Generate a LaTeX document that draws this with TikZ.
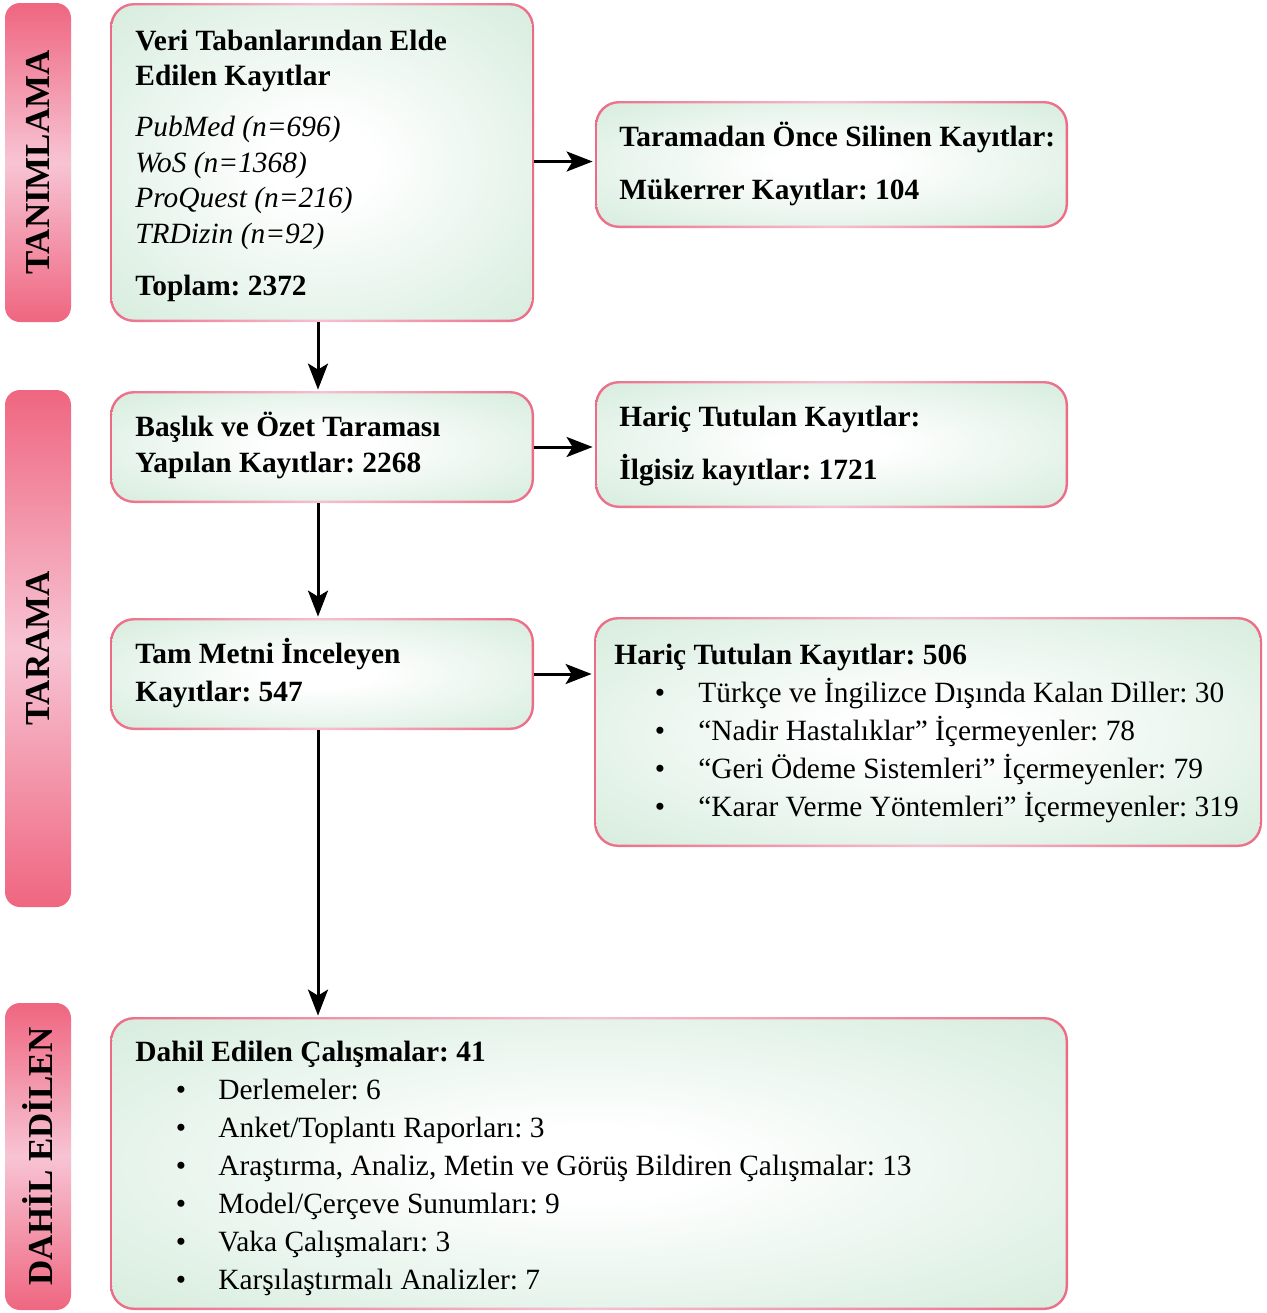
\documentclass[tikz,border=0pt]{standalone}
\usepackage{fontspec}
\setmainfont{Liberation Serif}
\usetikzlibrary{arrows.meta,fit,calc}
\definecolor{pk}{RGB}{236,108,134}
\definecolor{pkl}{RGB}{246,192,208}
\definecolor{barc}{RGB}{239,102,128}
\definecolor{barl}{RGB}{247,196,212}
\definecolor{gr}{RGB}{198,229,208}
\pgfdeclareradialshading{boxshade}{\pgfpoint{0bp}{0bp}}{color(0bp)=(white); color(6bp)=(white); color(48bp)=(gr); color(100bp)=(gr)}
\newcommand\boxfill[2]{\shade[shading=boxshade, rounded corners=#2] ([shift={(1.4pt,-1.4pt)}]#1.north west) rectangle ([shift={(-1.4pt,1.4pt)}]#1.south east);}
\frenchspacing
\begin{document}
\begin{tikzpicture}[x=0.5pt,y=-0.5pt,
 txt/.style={anchor=base west, inner sep=0pt, font=\fontsize{14.7}{19}\selectfont},
 btxt/.style={txt, font=\fontsize{14.7}{19}\selectfont\bfseries},
 itxt/.style={txt, font=\fontsize{14.7}{19}\selectfont\itshape},
 bul/.style={anchor=base, inner sep=0pt, font=\fontsize{14.7}{19}\selectfont},
 sidebar/.style={rounded corners=7.5pt, top color=barc, bottom color=barc, middle color=barl, inner sep=0pt},
 frame/.style={rounded corners=12pt, left color=pk, right color=pk, middle color=pkl, inner sep=0pt},
 arr/.style={line width=1.5pt, -{Stealth[length=13pt,width=10pt,inset=3pt]}},
 bartxt/.style={rotate=90, inner sep=0pt, font=\fontsize{17.5}{17.5}\selectfont\bfseries}]
\useasboundingbox (0,0) rectangle (1266,1313);

% side bars
\node[sidebar, fit={(5,3)(71,322)}] (bar1) {};
\node[bartxt] (lab1) at (bar1.center) {TANIMLAMA};
\node[sidebar, fit={(5,390)(71,907)}] (bar2) {};
\node[bartxt] (lab2) at (bar2.center) {TARAMA};
\node[sidebar, fit={(5,1003)(71,1310)}] (bar3) {};
\node[bartxt] (lab3) at (bar3.center) {DAHİL EDİLEN};

% boxes
\node[frame, fit={(110,3)(534,322)}] (A) {};
\boxfill{A}{11pt}
\node[frame, fit={(595,101)(1068,228)}] (B) {};
\boxfill{B}{11pt}
\node[frame, fit={(110,391)(534,503)}] (C) {};
\boxfill{C}{11pt}
\node[frame, fit={(595,381)(1068,508)}] (D) {};
\boxfill{D}{11pt}
\node[frame, fit={(110,618)(534,730)}] (E) {};
\boxfill{E}{11pt}
\node[frame, fit={(594,617)(1262,847)}] (F) {};
\boxfill{F}{11pt}
\node[frame, fit={(110,1017)(1068,1310)}] (G) {};
\boxfill{G}{11pt}

% texts box A
\node[btxt] (a1) at (135,50) {Veri Tabanlarından Elde};
\node[btxt] (a2) at (135,85) {Edilen Kayıtlar};
\node[itxt] (a3) at (135,136) {PubMed (n=696)};
\node[itxt] (a4) at (135,172) {WoS (n=1368)};
\node[itxt] (a5) at (135,207) {ProQuest (n=216)};
\node[itxt] (a6) at (135,243) {TRDizin (n=92)};
\node[btxt] (a7) at (135,295) {Toplam: 2372};

% box B
\node[btxt] (b1) at (619,146) {Taramadan Önce Silinen Kayıtlar:};
\node[btxt] (b2) at (619,199) {Mükerrer Kayıtlar: 104};

% box C
\node[btxt] (c1) at (135,436) {Başlık ve Özet Taraması};
\node[btxt] (c2) at (135,472) {Yapılan Kayıtlar: 2268};

% box D
\node[btxt] (d1) at (619,426) {Hariç Tutulan Kayıtlar:};
\node[btxt] (d2) at (619,479) {İlgisiz kayıtlar: 1721};

% box E
\node[btxt] (e1) at (135,663) {Tam Metni İnceleyen};
\node[btxt] (e2) at (135,701) {Kayıtlar: 547};

% box F
\node[btxt] (f0) at (614,664) {Hariç Tutulan Kayıtlar: 506};
\foreach \y/\t [count=\i] in {702/{Türkçe ve İngilizce Dışında Kalan Diller: 30},
  740/{“Nadir Hastalıklar” İçermeyenler: 78},
  778/{“Geri Ödeme Sistemleri” İçermeyenler: 79},
  816/{“Karar Verme Yöntemleri” İçermeyenler: 319}}{
  \node[bul] (fb\i) at (660,\y) {•};
  \node[txt] (ft\i) at (698,\y) {\t};
}

% box G
\node[btxt] (g0) at (135,1061) {Dahil Edilen Çalışmalar: 41};
\foreach \y/\t [count=\i] in {1099/{Derlemeler: 6},
  1137/{Anket/Toplantı Raporları: 3},
  1175/{Araştırma, Analiz, Metin ve Görüş Bildiren Çalışmalar: 13},
  1213/{Model/Çerçeve Sunumları: 9},
  1251/{Vaka Çalışmaları: 3},
  1289/{Karşılaştırmalı Analizler: 7}}{
  \node[bul] (gb\i) at (181,\y) {•};
  \node[txt] (gt\i) at (218,\y) {\t};
}

% arrows
\draw[arr] ($(A.east)+(0,-1)$) -- ($(A.east -| B.west)+(-2,-1)$);
\draw[arr] (C.east) -- ($(C.east -| D.west)+(-2,0)$);
\draw[arr] (E.east) -- ($(E.east -| F.west)+(-2,0)$);
\draw[arr] ($(A.south)+(-4,0)$) -- ($(A.south |- C.north)+(-4,-1)$);
\draw[arr] ($(C.south)+(-4,0)$) -- ($(C.south |- E.north)+(-4,-1)$);
\draw[arr] ($(E.south)+(-4,0)$) -- ($(E.south |- G.north)+(-4,-1)$);
\end{tikzpicture}
\end{document}
